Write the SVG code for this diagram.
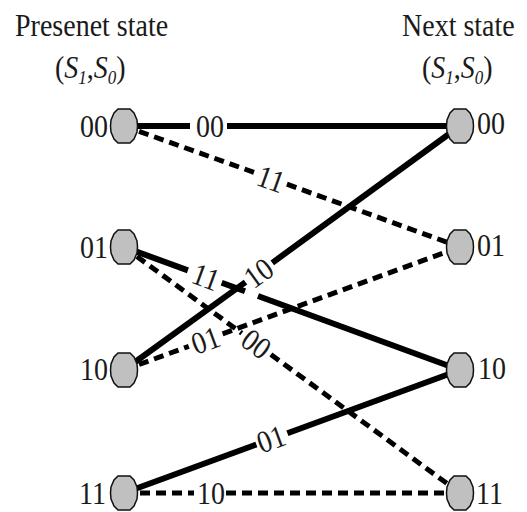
<svg xmlns="http://www.w3.org/2000/svg" width="527" height="512" viewBox="0 0 527 512">
<style>
text{font-family:"Liberation Serif","Times New Roman",serif;fill:#1a1a1a}
.t{font-size:28px}
.el{font-size:28px;text-anchor:middle}
.s{stroke:#000;stroke-width:6;fill:none}
.d{stroke:#000;stroke-width:5;fill:none;stroke-dasharray:10 6}
.n{fill:#c0c0c0;stroke:#111;stroke-width:1.5}
</style>
<defs>
<path id="nd" d="M-6,-17 L6,-17 L10,-13 L13,-6 L13.5,0 L13,6 L10,13 L6,17 L-6,17 L-10,13 L-13,6 L-13.5,0 L-13,-6 L-10,-13 Z"/>
</defs>
<rect width="527" height="512" fill="#fff"/>
<g id="titles">
<text class="t" transform="translate(15,36) scale(1,1.12)">Presenet state</text>
<text class="t" transform="translate(55,78) scale(1,1.12)">(<tspan font-style="italic">S</tspan><tspan font-style="italic" font-size="17" dy="5">1</tspan><tspan dy="-5">,</tspan><tspan font-style="italic">S</tspan><tspan font-style="italic" font-size="17" dy="5">0</tspan><tspan dy="-5">)</tspan></text>
<text class="t" transform="translate(402,36) scale(1,1.12)">Next state</text>
<text class="t" transform="translate(422,78) scale(1,1.12)">(<tspan font-style="italic">S</tspan><tspan font-style="italic" font-size="17" dy="5">1</tspan><tspan dy="-5">,</tspan><tspan font-style="italic">S</tspan><tspan font-style="italic" font-size="17" dy="5">0</tspan><tspan dy="-5">)</tspan></text>
</g>
<g id="connectors">
<!-- 00 -> 00 solid -->
<path class="s" d="M124,126 L190,126 M227,126 L460,126"/>
<g transform="translate(210,126) scale(1,1.12)"><text class="el" y="9.5">00</text></g>
<!-- 00 -> 01 dashed -->
<path class="d" d="M124,126 L254.9,172.7 M286.9,184.2 L460,247"/>
<g transform="translate(271,179) rotate(19.65) scale(1,1.12)"><text class="el" y="9.5">11</text></g>
<!-- 01 -> 10 solid -->
<path class="s" d="M124,247 L187.9,270.4 M221.7,282.8 L245,291.3 M258,296 L460,370"/>
<g transform="translate(206,277) rotate(20.1) scale(1,1.12)"><text class="el" y="9.5">11</text></g>
<!-- 01 -> 11 dashed -->
<path class="d" d="M124,247 L241.8,333.3 M270.9,354.5 L460,493"/>
<g transform="translate(256.3,343.9) rotate(36.2) scale(1,1.12)"><text class="el" y="9.5">00</text></g>
<!-- 10 -> 00 solid -->
<path class="s" d="M124,370 L245.5,282.1 M272.3,262.8 L460,126"/>
<g transform="translate(258.5,273) rotate(-35.9) scale(1,1.12)"><text class="el" y="9.5">10</text></g>
<!-- 10 -> 01 dashed -->
<path class="d" d="M124,370 L188.8,346.3 M222.6,333.9 L460,247"/>
<g transform="translate(205.5,340.2) rotate(-20.1) scale(1,1.12)"><text class="el" y="9.5">01</text></g>
<!-- 11 -> 10 solid -->
<path class="s" d="M124,493 L256.4,444.5 M287.4,433.2 L460,370"/>
<g transform="translate(271,439) rotate(-20.1) scale(1,1.12)"><text class="el" y="9.5">01</text></g>
<!-- 11 -> 11 dashed -->
<path class="d" d="M124,493 L194,493 M226,493 L460,493"/>
<g transform="translate(211,493) scale(1,1.12)"><text class="el" y="9.5">10</text></g>
</g>
<g id="p00"><use href="#nd" class="n" x="124" y="126"/><text class="t" text-anchor="end" transform="translate(108,137) scale(1,1.12)">00</text></g>
<g id="p01"><use href="#nd" class="n" x="124" y="247"/><text class="t" text-anchor="end" transform="translate(108,258) scale(1,1.12)">01</text></g>
<g id="p10"><use href="#nd" class="n" x="124" y="370"/><text class="t" text-anchor="end" transform="translate(108,380) scale(1,1.12)">10</text></g>
<g id="p11"><use href="#nd" class="n" x="124" y="493"/><text class="t" text-anchor="end" transform="translate(106,504) scale(1,1.12)">11</text></g>
<g id="n00"><use href="#nd" class="n" x="460" y="126"/><text class="t" transform="translate(477,134) scale(1,1.12)">00</text></g>
<g id="n01"><use href="#nd" class="n" x="460" y="247"/><text class="t" transform="translate(477,256) scale(1,1.12)">01</text></g>
<g id="n10"><use href="#nd" class="n" x="460" y="370"/><text class="t" transform="translate(478,379) scale(1,1.12)">10</text></g>
<g id="n11"><use href="#nd" class="n" x="460" y="493"/><text class="t" transform="translate(476,504) scale(1,1.12)">11</text></g>
</svg>
